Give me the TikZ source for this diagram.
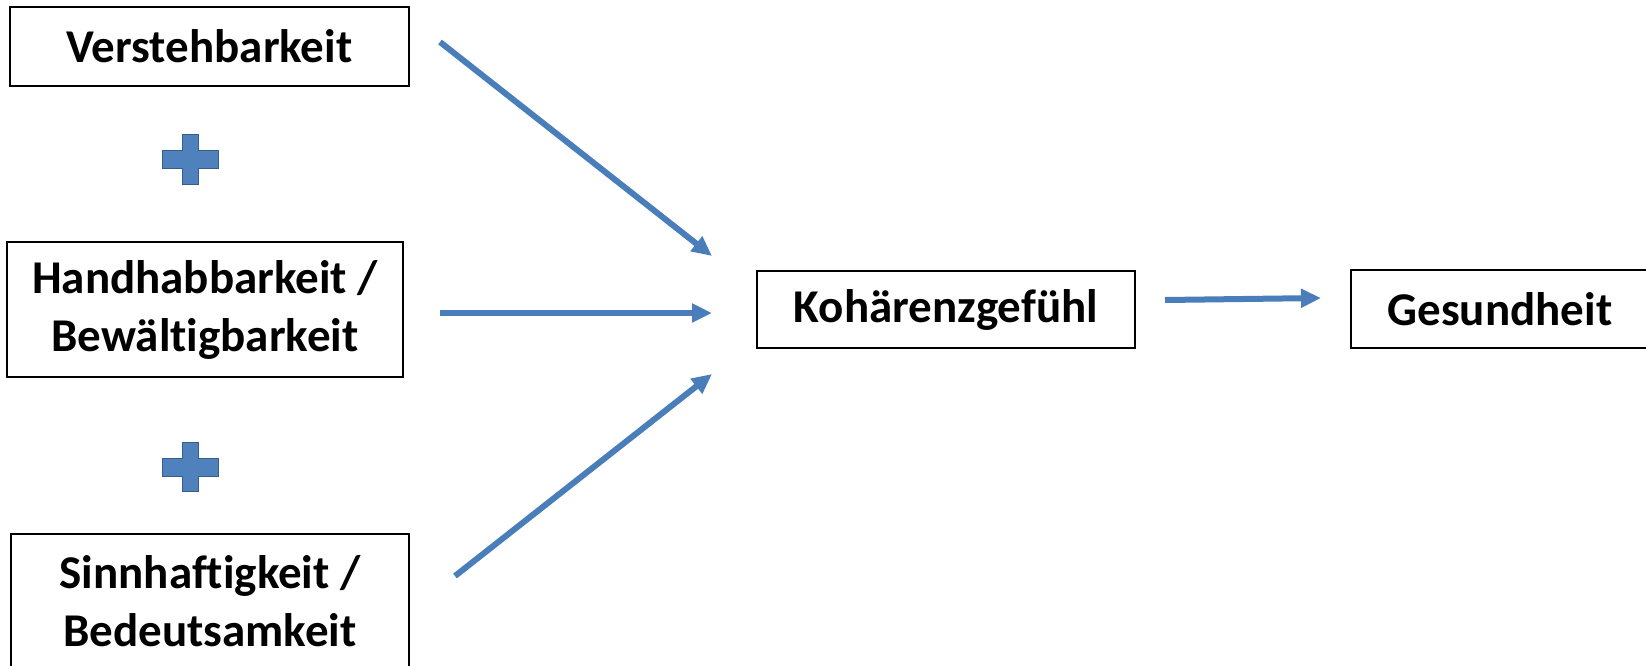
\documentclass[tikz,border=0pt]{standalone}
\usepackage{fontspec}
\setmainfont[Ligatures={NoCommon}]{Carlito}
\usetikzlibrary{arrows.meta}
\definecolor{arrowblue}{HTML}{4A7EBB}
\definecolor{plusfill}{HTML}{4F81BD}
\definecolor{plusline}{HTML}{385D8A}
\tikzset{
  box/.style={draw=black, line width=1pt, fill=white, align=center, inner sep=0pt,
    font=\fontsize{23.5}{29}\selectfont\bfseries, text=black},
  conn/.style={draw=arrowblue, line width=3pt, -{Triangle[length=10pt,width=9pt]}},
  plussign/.style={fill=plusfill, draw=plusline, line width=0.5pt}
}
\begin{document}
\begin{tikzpicture}[x=0.5pt,y=-0.5pt]
\useasboundingbox (0,0) rectangle (1646,665);
\begin{scope}
\clip (0,0) rectangle (1646,665);
\node[box, minimum width=199.5pt, minimum height=39.5pt] (v) at (209.5,46.5) {Verstehbarkeit};
\node[box, minimum width=198pt, minimum height=67.5pt] (h) at (205,309.5) {Handhabbarkeit /\\Bewältigbarkeit};
\node[box, minimum width=199pt, minimum height=67.5pt] (s) at (210,601.5) {Sinnhaftigkeit /\\Bedeutsamkeit};
\node[box, minimum width=189pt, minimum height=38.5pt] (k) at (946,309.5) {Kohärenzgefühl};
\node[box, minimum width=149pt, minimum height=39pt] (g) at (1500,309) {Gesundheit};
\end{scope}
% plus signs
\draw[plussign] (182,134) -- (198,134) -- (198,150) -- (218,150) -- (218,168) -- (198,168) -- (198,184) -- (182,184) -- (182,168) -- (162,168) -- (162,150) -- (182,150) -- cycle;
\draw[plussign] (182,442) -- (198,442) -- (198,458) -- (218,458) -- (218,476) -- (198,476) -- (198,491) -- (182,491) -- (182,476) -- (162,476) -- (162,458) -- (182,458) -- cycle;
% connector end points
\coordinate (v1) at (440,42);
\coordinate (h1) at (440,313);
\coordinate (s1) at (455,576);
\coordinate (k1) at (712,256);
\coordinate (k2) at (712,313);
\coordinate (k3) at (712,374);
\coordinate (k4) at (1165,300);
\coordinate (g1) at (1321,298);
\draw[conn] (v1) -- (k1);
\draw[conn] (h1) -- (k2);
\draw[conn] (s1) -- (k3);
\draw[conn] (k4) -- (g1);
\end{tikzpicture}
\end{document}
